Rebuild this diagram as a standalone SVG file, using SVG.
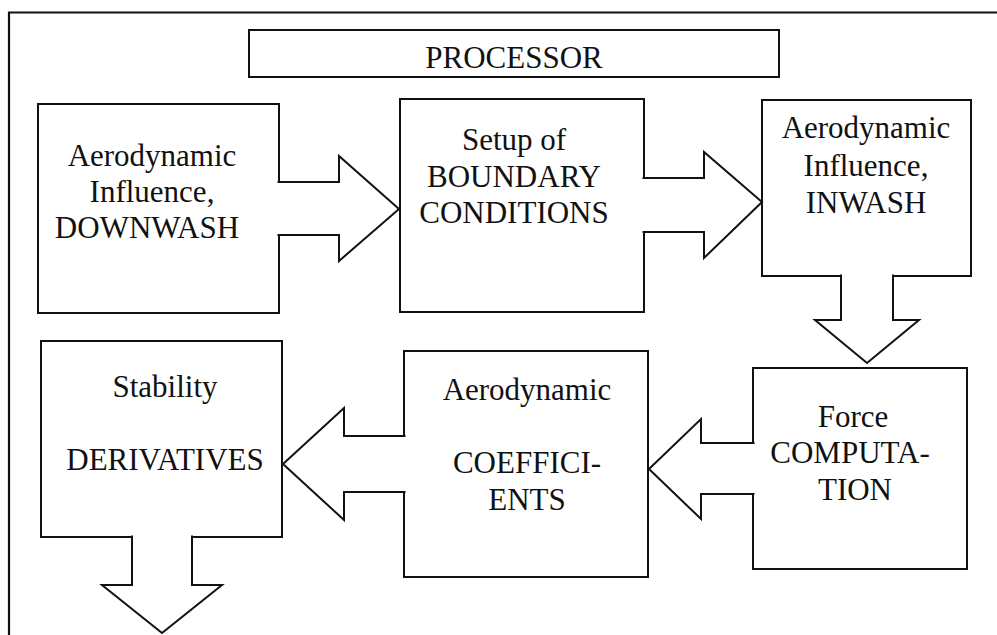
<svg xmlns="http://www.w3.org/2000/svg" width="997" height="635" viewBox="0 0 997 635">
<style>
.box{fill:#fff;stroke:#111;stroke-width:2}
.arr{fill:#fff;stroke:#111;stroke-width:2;stroke-linejoin:miter}
.frame{fill:none;stroke:#111;stroke-width:2.2}
text{font-family:"Liberation Serif","Times New Roman",serif;font-size:31px;fill:#111;text-anchor:middle}
</style>
<rect width="997" height="635" fill="#fff"/>
<path class="frame" d="M9 635 V12.5 H997"/>
<g id="processor"><rect class="box" x="249" y="30" width="530" height="47"/><text x="514" y="68">PROCESSOR</text></g>
<g id="downwash"><rect class="box" x="38" y="104" width="241" height="209"/>
<text x="152" y="166">Aerodynamic</text><text x="152" y="202">Influence,</text><text x="147" y="238">DOWNWASH</text></g>
<g id="boundary"><rect class="box" x="400" y="99" width="244" height="213"/>
<text x="514" y="150">Setup of</text><text x="514" y="187">BOUNDARY</text><text x="514" y="223">CONDITIONS</text></g>
<g id="inwash"><rect class="box" x="762" y="100" width="209" height="176"/>
<text x="866" y="138">Aerodynamic</text><text x="866" y="176">Influence,</text><text x="866" y="213">INWASH</text></g>
<g id="force"><rect class="box" x="753" y="368" width="214" height="201"/>
<text x="853" y="427">Force</text><text x="850" y="463">COMPUTA-</text><text x="855" y="500">TION</text></g>
<g id="coefficients"><rect class="box" x="404" y="351" width="244" height="226"/>
<text x="527" y="400">Aerodynamic</text><text x="527" y="473">COEFFICI-</text><text x="527" y="510">ENTS</text></g>
<g id="derivatives"><rect class="box" x="41" y="341" width="241" height="196"/>
<text x="165" y="397">Stability</text><text x="165" y="470">DERIVATIVES</text></g>
<g id="connectors">
<path class="arr" d="M277.5 182 H339 V156 L399 209 L339 261 V235 H277.5"/>
<path class="arr" d="M642.5 178 H704 V152 L762 202 L704 258 V232 H642.5"/>
<path class="arr" d="M841 274.5 V320 H815 L867 363 L919 320 H893 V274.5"/>
<path class="arr" d="M754.5 443 H701 V419 L649 469 L701 519 V494 H754.5"/>
<path class="arr" d="M405.5 436 H344 V408 L283 464 L344 520 V492 H405.5"/>
<path class="arr" d="M132 535.5 V585 H102 L162 633 L222 585 H192 V535.5"/>
</g>
</svg>
